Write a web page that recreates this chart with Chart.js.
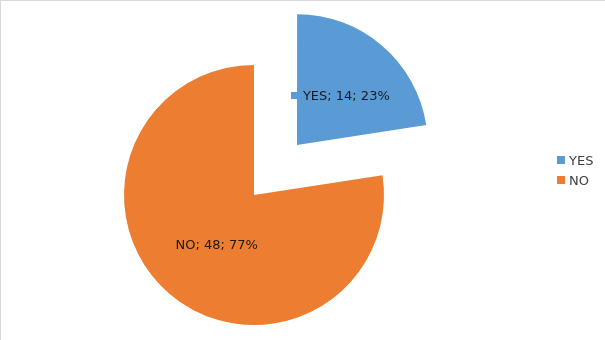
<!DOCTYPE html>
<html>
<head>
<meta charset="utf-8">
<script src="https://cdn.jsdelivr.net/npm/chart.js@4"></script>
<style>
  html, body { margin:0; padding:0; background:#fff; }
  #wrap { position:relative; width:605px; height:340px; box-sizing:border-box;
          border-top:1px solid #d9d9d9; border-left:1px solid #d9d9d9; }
  #pie { position:absolute; left:0; top:0; }
  #legend { position:absolute; left:556px; top:149px; font:13px 'DejaVu Sans', sans-serif; color:#404040; }
  #legend div { display:flex; align-items:center; height:20px; }
  #legend span.k { width:8px; height:8px; margin-right:4px; display:inline-block; }
</style>
</head>
<body>
<div id="wrap">
  <canvas id="pie" width="605" height="340"></canvas>
  <div id="legend"></div>
</div>
<script>
// ── data ──────────────────────────────────────────────
const labels  = ['YES', 'NO'];
const counts  = [14, 48];
const percent = ['23%', '77%'];
const colors  = ['#5B9BD5', '#ED7D31'];
const explode = [264, 0];   // Chart.js shifts a slice by offset/4

// ── data labels "YES; 14; 23%" ─────────────────────────
const sliceLabels = {
  id: 'sliceLabels',
  afterDatasetsDraw(chart) {
    const ctx = chart.ctx;
    const meta = chart.getDatasetMeta(0);
    ctx.save();
    ctx.font = '13px "DejaVu Sans", sans-serif';
    ctx.textBaseline = 'middle';
    meta.data.forEach((arc, i) => {
      const p = arc.getProps(['x', 'y', 'startAngle', 'endAngle', 'outerRadius']);
      const a = (p.startAngle + p.endAngle) / 2;
      const r = p.outerRadius / 2 + (arc.options.offset || 0) / 4;
      const cx = p.x + Math.cos(a) * r;
      const cy = p.y + Math.sin(a) * r;
      const txt = `${labels[i]}; ${counts[i]}; ${percent[i]}`;
      const tw = ctx.measureText(txt).width;
      const key = i === 0;            // only YES shows the legend key
      const total = tw + (key ? 12 : 0);
      let x = cx - total / 2 + (key ? 1 : 5);
      if (key) {
        ctx.fillStyle = colors[i];
        ctx.fillRect(Math.round(x), Math.round(cy - 4), 7, 7);
        x += 12;
      }
      ctx.fillStyle = '#1a1a1a';
      ctx.textAlign = 'left';
      ctx.fillText(txt, x, cy + 1);
    });
    ctx.restore();
  }
};

new Chart(document.getElementById('pie'), {
  type: 'pie',
  data: {
    labels,
    datasets: [{ data: counts, backgroundColor: colors, borderWidth: 0, offset: explode, hoverOffset: 0 }],
  },
  options: {
    responsive: false, animation: false, radius: 130,
    layout: { padding: { left: 56, right: 155, top: 60, bottom: 12 } },
    plugins: { legend: { display: false }, tooltip: { enabled: false } },
  },
  plugins: [sliceLabels],
});

// legend at right
document.getElementById('legend').innerHTML = labels.map((l, i) =>
  `<div><span class="k" style="background:${colors[i]}"></span>${l}</div>`).join('');
</script>
</body>
</html>
